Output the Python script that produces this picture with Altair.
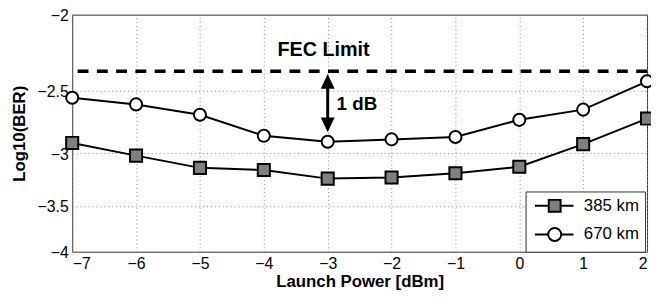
import altair as alt
import pandas as pd

launch_power = [-7, -6, -5, -4, -3, -2, -1, 0, 1, 2]
ber_385 = [-2.91, -3.02, -3.13, -3.15, -3.23, -3.22, -3.18, -3.12, -2.92, -2.71]
ber_670 = [-2.55, -2.60, -2.68, -2.85, -2.90, -2.88, -2.86, -2.72, -2.64, -2.43]
series_names = ["385 km", "670 km"]
fec_limit = -2.36
fec_label = "FEC Limit"
fec_label_pos = [-3.065, -2.22]
arrow_x = -3
arrow_top = -2.43
arrow_bottom = -2.76
margin_label = "1 dB"
margin_label_pos = [-3, -2.60]
y_ticks = [-2, -2.5, -3, -3.5, -4]
x_ticks = [-7, -6, -5, -4, -3, -2, -1, 0, 1, 2]

rows = []
for name, vals in zip(series_names, [ber_385, ber_670]):
    for p, v in zip(launch_power, vals):
        rows.append({"power": p, "mag": -v, "series": name})
df = pd.DataFrame(rows)

FONT = "Liberation Sans"


def xenc():
    return alt.X("power:Q",
                 scale=alt.Scale(domain=[-7, 2], nice=False, zero=False),
                 axis=alt.Axis(values=x_ticks, title="Launch Power [dBm]",
                               labelPadding=4, titlePadding=2))


def yenc():
    return alt.Y("mag:Q",
                 scale=alt.Scale(type="log", domain=[2, 4], reverse=True, nice=False),
                 axis=alt.Axis(values=[-t for t in y_ticks], title="Log10(BER)",
                               labelExpr="'−' + datum.value", labelPadding=4,
                               labelOffset=1, titlePadding=9))


lines = alt.Chart(df).mark_line(color="black", strokeWidth=2).encode(
    x=xenc(), y=yenc(), detail="series:N")

points = alt.Chart(df).mark_point(filled=True, size=150, stroke="black",
                                  strokeWidth=2, opacity=1).encode(
    x=xenc(), y=yenc(),
    shape=alt.Shape("series:N", scale=alt.Scale(domain=series_names, range=["square", "circle"]), legend=None),
    fill=alt.Fill("series:N", scale=alt.Scale(domain=series_names, range=["#808080", "white"]), legend=None),
)

sq_path = "M-0.83,0H1.5M3.5,0H5.67M1.5,-1H3.5V1H1.5Z"
ci_path = "M-0.83,0H1.4M3.6,0H5.67M1.4,0A1.1,1.1,0,1,1,3.6,0A1.1,1.1,0,1,1,1.4,0Z"


def leg():
    return alt.Legend(title=None, orient="none", legendX=459, legendY=179,
                      symbolSize=144, symbolOpacity=1, symbolStrokeWidth=2,
                      labelOffset=36, padding=6, rowPadding=7, labelFontSize=17,
                      labelFont=FONT, labelColor="black", strokeColor="#333333",
                      fillColor="white")


legend_layer = alt.Chart(df).mark_point(filled=True, size=150, strokeWidth=2, opacity=0).encode(
    x=xenc(), y=yenc(),
    shape=alt.Shape("series:N", scale=alt.Scale(domain=series_names, range=[sq_path, ci_path]), legend=leg()),
    fill=alt.Fill("series:N", scale=alt.Scale(domain=series_names, range=["#808080", "white"]), legend=leg()),
    stroke=alt.Stroke("series:N", scale=alt.Scale(domain=series_names, range=["black", "black"]), legend=leg()),
)

fec_df = pd.DataFrame({"mag": [-fec_limit]})
fec_rule = alt.Chart(fec_df).mark_rule(color="black", strokeWidth=3.5, strokeDash=[11, 8.5]).encode(
    y=yenc())

fec_text_df = pd.DataFrame({"power": [fec_label_pos[0]], "mag": [-fec_label_pos[1]], "t": [fec_label]})
fec_text = alt.Chart(fec_text_df).mark_text(font=FONT, fontSize=20, fontWeight="bold",
                                            color="black").encode(
    x=xenc(), y=yenc(), text="t:N")

arrow_df = pd.DataFrame({"power": [arrow_x], "mag": [-arrow_top], "mag2": [-arrow_bottom]})
arrow_line = alt.Chart(arrow_df).mark_rule(color="black", strokeWidth=3).encode(
    x=xenc(), y=yenc(), y2="mag2:Q")

heads_df = pd.DataFrame({"power": [arrow_x, arrow_x], "mag": [-arrow_top, -arrow_bottom],
                         "dir": ["up", "down"]})
tri_up = "M0,-1.07L-1,1.07L1,1.07Z"
tri_down = "M0,1.07L-1,-1.07L1,-1.07Z"
heads = alt.Chart(heads_df).mark_point(filled=True, color="black", size=196, opacity=1).encode(
    x=xenc(), y=yenc(),
    shape=alt.Shape("dir:N", scale=alt.Scale(domain=["up", "down"], range=[tri_up, tri_down]),
                    legend=None))

margin_df = pd.DataFrame({"power": [margin_label_pos[0]], "mag": [-margin_label_pos[1]], "t": [margin_label]})
margin_text = alt.Chart(margin_df).mark_text(font=FONT, fontSize=19, fontWeight="bold", color="black",
                                             align="left", dx=9).encode(
    x=xenc(), y=yenc(), text="t:N")

chart = alt.layer(
    lines, points, fec_rule, fec_text, arrow_line, heads, margin_text, legend_layer
).resolve_scale(shape="independent", fill="independent", stroke="independent").properties(
    width=582, height=240, autosize=alt.AutoSizeParams(type="none"),
    padding={"left": 65, "top": 5, "right": 4, "bottom": 39}
).configure(font=FONT).configure_axis(
    labelFont=FONT, titleFont=FONT, labelFontSize=16, titleFontSize=17,
    titleFontWeight="bold", labelColor="black", titleColor="black",
    gridColor="#888888", gridDash=[1, 3], gridWidth=1, ticks=False, domain=False
).configure_view(stroke="#333333", strokeWidth=1)

chart.save("out.html", embed_options={"renderer": "svg", "actions": False})
